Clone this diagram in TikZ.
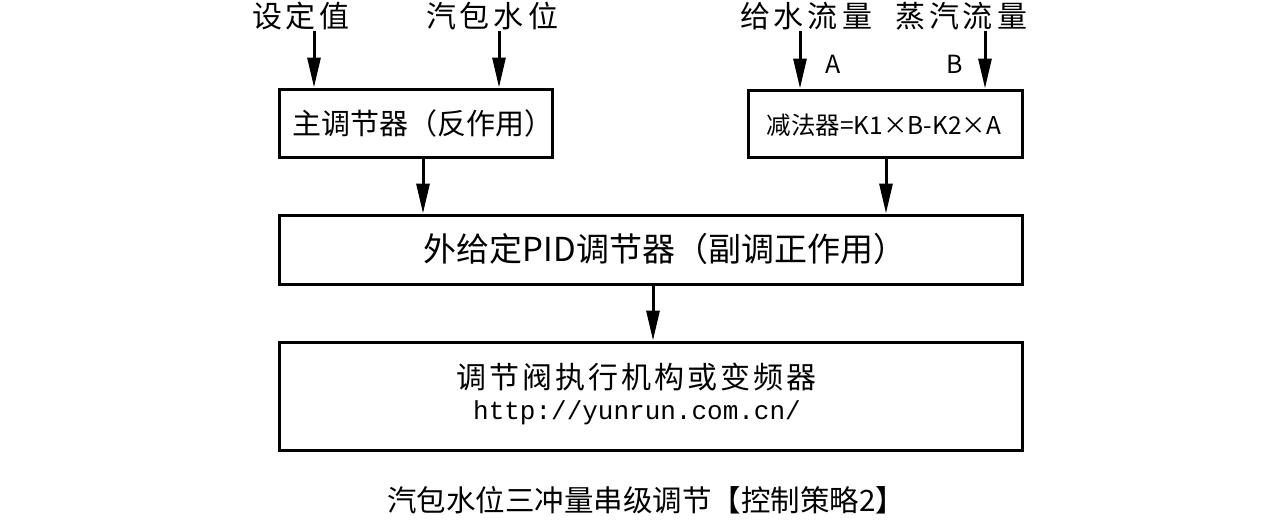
\documentclass[tikz,border=0pt]{standalone}
\usepackage{fontspec}
\setmainfont{Noto Sans CJK SC}
\newfontfamily\urlfont{Liberation Mono}
\usetikzlibrary{arrows.meta}
\tikzset{
  blk/.style={draw=black, line width=3pt, inner sep=0pt, anchor=center},
  arr/.style={-{Triangle[length=30pt,width=13pt]}, line width=3pt},
  lbl/.style={inner sep=0pt, anchor=center, font=\fontsize{30}{33}\selectfont},
}
\newcommand{\gp}{\hspace{4pt}}
\begin{document}
\begin{tikzpicture}[x=1pt,y=-1pt]
\useasboundingbox[fill=white] (0,0) rectangle (1280,520);
% boxes
\node[blk, minimum width=273pt, minimum height=68pt] (b1) at (415.5,123) {};
\node[inner sep=0pt, font=\fontsize{29}{32}\selectfont] (t1) at (423,123) {主调节器（反作用）};
\node[blk, minimum width=274pt, minimum height=67pt] (b2) at (885,123.5) {};
\node[inner sep=0pt, font=\fontsize{24.5}{30}\selectfont] (t2) at (884,125) {减法器=K1×B-K2×A};
\node[blk, minimum width=743pt, minimum height=69pt] (b3) at (650.5,249.5) {};
\node[inner sep=0pt, font=\fontsize{33}{36}\selectfont] (t3) at (665,249) {外给定PID调节器（副调正作用）};
\node[blk, minimum width=743pt, minimum height=108pt] (b4) at (650.5,396) {};
\node[inner sep=0pt, font=\fontsize{30}{34}\selectfont] (t4) at (636,377) {调\hspace{3pt}节\hspace{3pt}阀\hspace{3pt}执\hspace{3pt}行\hspace{3pt}机\hspace{3pt}构\hspace{3pt}或\hspace{3pt}变\hspace{3pt}频\hspace{3pt}器};
\node[inner sep=0pt, font=\urlfont\fontsize{26}{30}\selectfont] (u4) at (637,413) {http://yunrun.com.cn/};
% top labels
\node[lbl] (l1) at (301,16) {设\gp 定\gp 值};
\node[lbl] (l2) at (492,16) {汽\gp 包\gp 水\gp 位};
\node[lbl] (l3) at (806,16) {给\gp 水\gp 流\gp 量};
\node[lbl] (l4) at (961,16) {蒸\gp 汽\gp 流\gp 量};
\node[inner sep=0pt, font=\fontsize{25}{28}\selectfont] (la) at (833,64) {A};
\node[inner sep=0pt, font=\fontsize{25}{28}\selectfont] (lb) at (955,64) {B};
% arrow start coordinates
\coordinate (s1) at (314,31);
\coordinate (s2) at (499,31);
\coordinate (s3) at (800,31);
\coordinate (s4) at (985,31);
\coordinate (c1) at (423,0);
\coordinate (c2) at (886,0);
\coordinate (c3) at (653,0);
\draw[arr] (s1) -- (s1 |- b1.north);
\draw[arr] (s2) -- (s2 |- b1.north);
\draw[arr] (s3) -- (s3 |- b2.north);
\draw[arr] (s4) -- (s4 |- b2.north);
\draw[arr] (c1 |- b1.south) -- (c1 |- b3.north);
\draw[arr] (c2 |- b2.south) -- (c2 |- b3.north);
\draw[arr] (c3 |- b3.south) -- (c3 |- b4.north);
% caption
\node[inner sep=0pt, font=\fontsize{29.5}{32}\selectfont] (cap) at (646,500) {汽包水位三冲量串级调节【控制策略2】};
\end{tikzpicture}
\end{document}
